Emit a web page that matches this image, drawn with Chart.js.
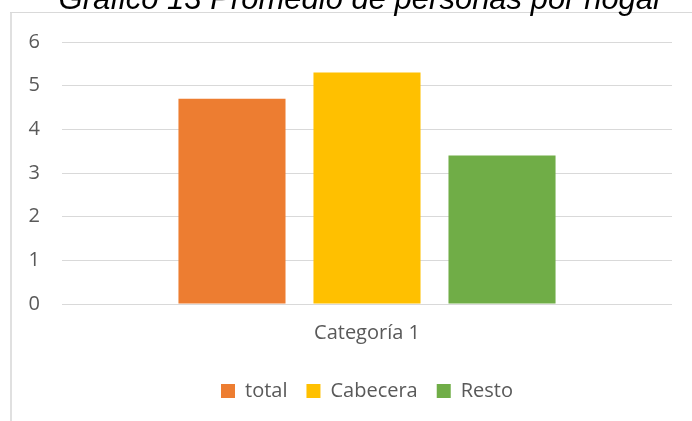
<!DOCTYPE html>
<html>
<head>
<meta charset="utf-8">
<script src="https://cdn.jsdelivr.net/npm/chart.js@4.4.1/dist/chart.umd.min.js"></script>
<style>
  html, body { margin: 0; padding: 0; background: #fff; }
  #wrap { width: 692px; height: 421px; position: relative; }
</style>
</head>
<body>
<div id="wrap"><canvas id="chart" width="692" height="421"></canvas></div>
<script>
// datos del gráfico
const titulo = "Gráfico 13 Promedio de personas por hogar";
const categorias = ["Categoría 1"];
const series = ["total", "Cabecera", "Resto"];
const valores = [[4.7], [5.3], [3.4]];
const colores = ["#ED7D31", "#FFC000", "#70AD47"];
const ejeY = { min: 0, max: 6, paso: 1 };

const FONT = "'Open Sans', sans-serif";

// marco gris y título recortado arriba
const marcoPlugin = {
  id: "marco",
  beforeDraw(chart) {
    const ctx = chart.ctx;
    ctx.save();
    ctx.fillStyle = "#e0e0e0";
    ctx.fillRect(10, 12, 2, chart.height - 12);
    ctx.fillStyle = "#d9d9d9";
    ctx.fillRect(10, 12, chart.width - 10, 1);
    ctx.restore();
  },
  afterDraw(chart) {
    const ctx = chart.ctx;
    ctx.save();
    ctx.font = "italic 31px 'Liberation Sans', Arial, sans-serif";
    ctx.fillStyle = "#000";
    ctx.textAlign = "center";
    ctx.textBaseline = "alphabetic";
    ctx.fillText(titulo, 361, 9);
    ctx.restore();
  }
};

new Chart(document.getElementById("chart").getContext("2d"), {
  type: "bar",
  data: {
    labels: categorias,
    datasets: series.map((s, i) => ({
      label: s,
      data: valores[i],
      backgroundColor: colores[i],
      categoryPercentage: 0.664,
      barPercentage: 0.793,
    })),
  },
  options: {
    responsive: false,
    animation: false,
    layout: { padding: { left: 22, right: 20, top: 42, bottom: 10 } },
    scales: {
      y: {
        min: ejeY.min,
        max: ejeY.max,
        ticks: { stepSize: ejeY.paso, padding: 22, color: "#595959", font: { family: FONT, size: 20 } },
        grid: { color: "#d9d9d9", drawTicks: false },
        border: { display: false },
        afterFit(s) { s.width = 40; },
      },
      x: {
        ticks: { padding: 17, color: "#595959", font: { family: FONT, size: 20 } },
        grid: { display: false, drawTicks: false },
        border: { display: false },
      },
    },
    plugins: {
      legend: {
        position: "bottom",
        fullSize: false,
        labels: {
          boxWidth: 14,
          boxHeight: 14,
          padding: 19,
          color: "#595959",
          font: { family: FONT, size: 20 },
        },
      },
      tooltip: { enabled: false },
    },
  },
  plugins: [marcoPlugin],
});
</script>
</body>
</html>
